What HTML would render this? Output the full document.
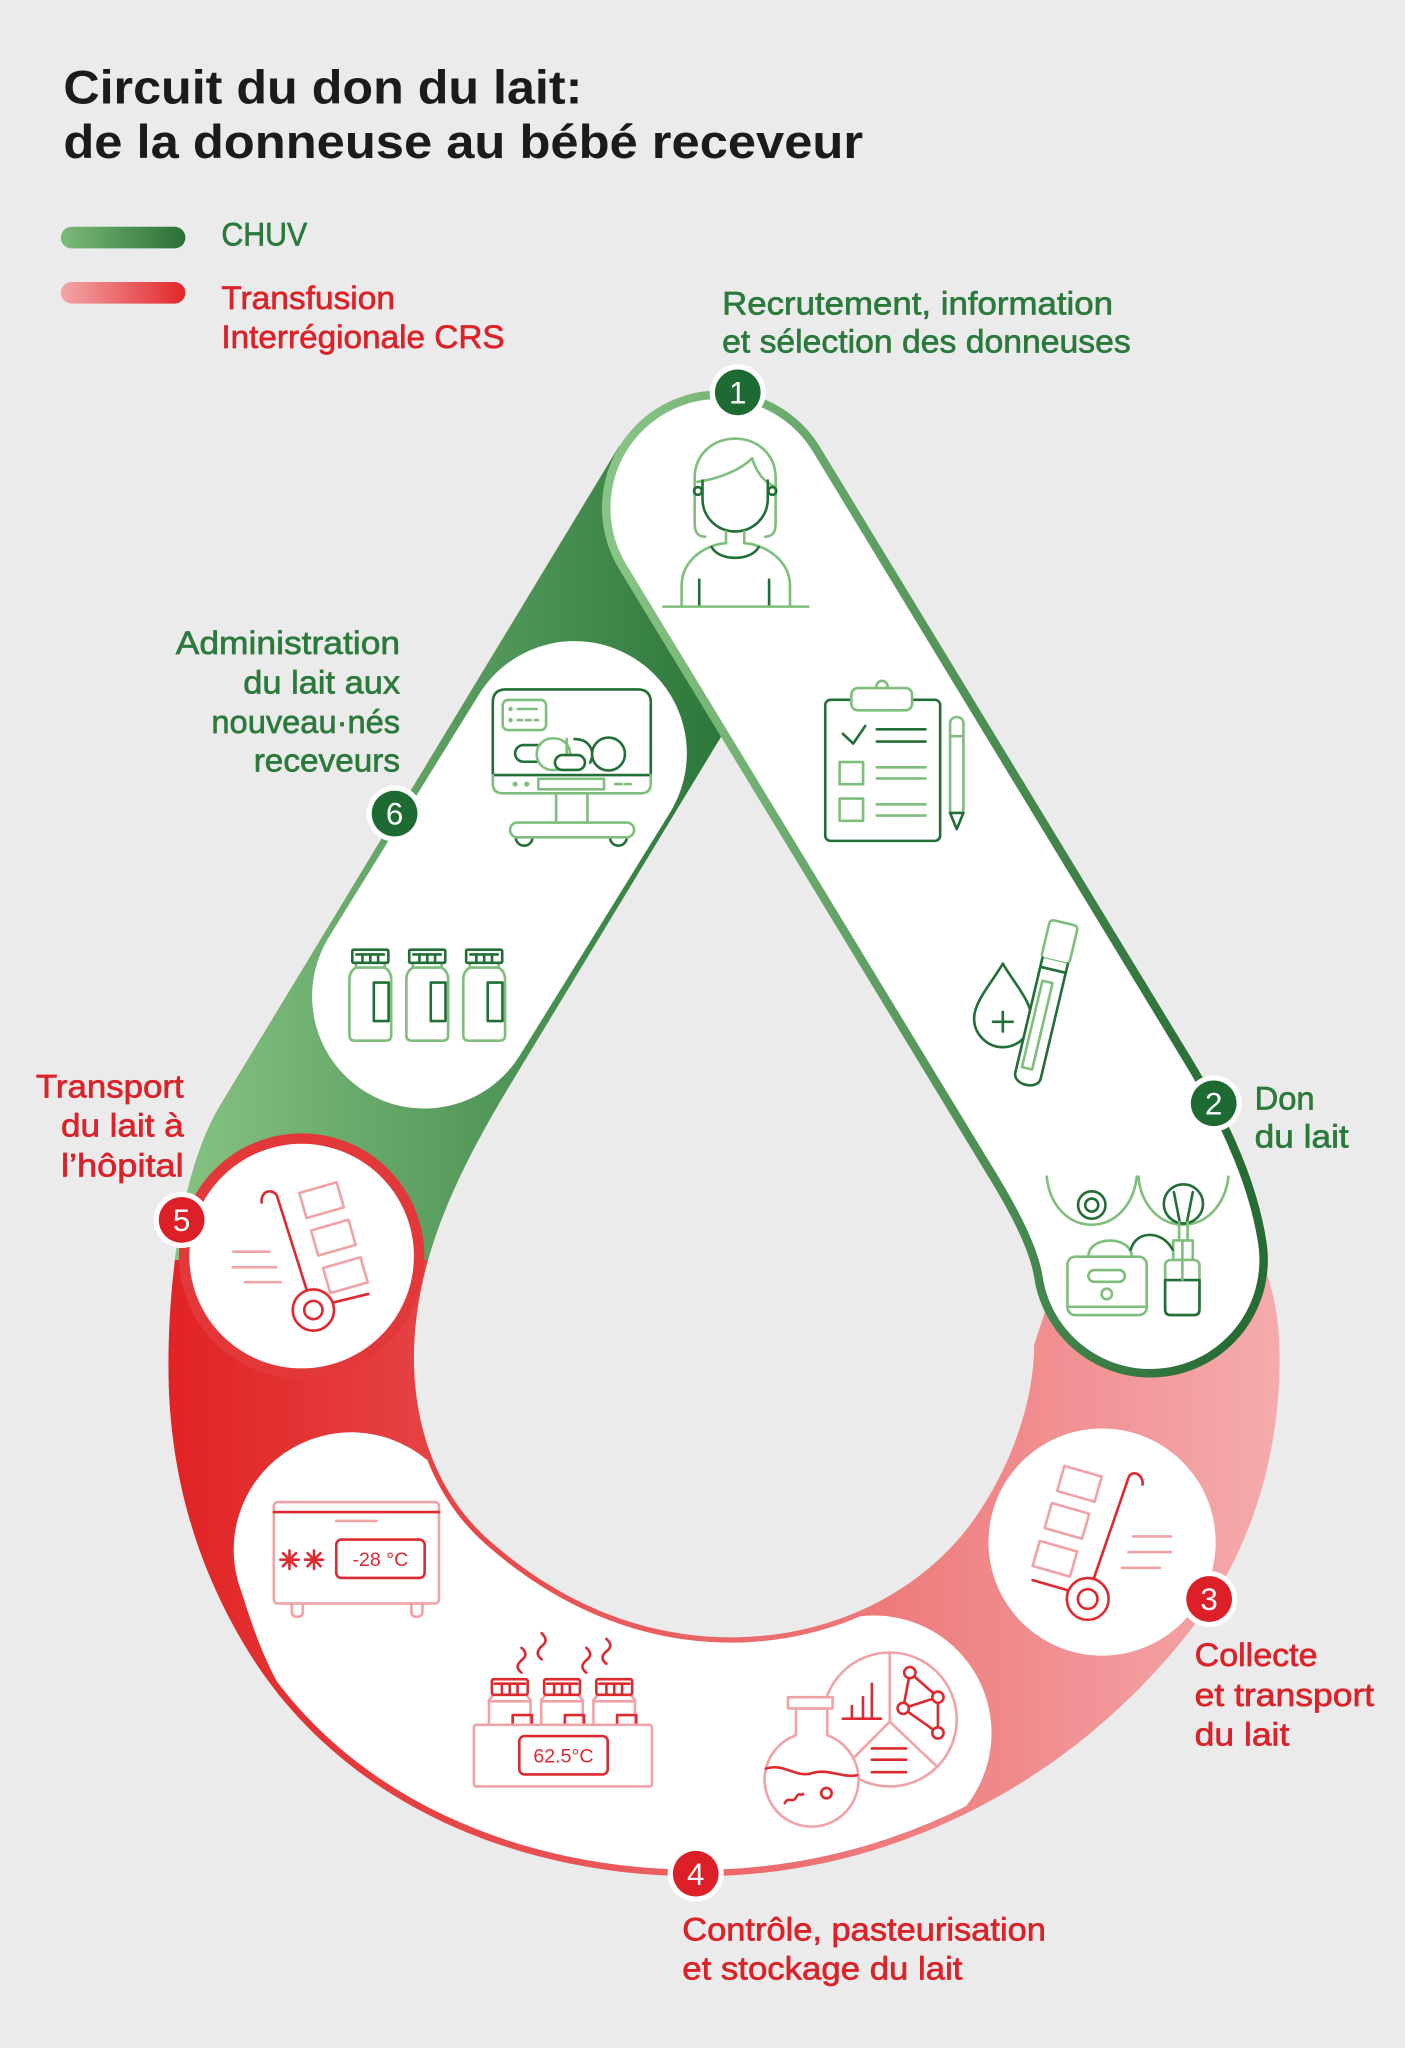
<!DOCTYPE html>
<html><head><meta charset="utf-8"><title>Circuit du don du lait</title>
<style>html,body{margin:0;padding:0;background:#ebebeb;overflow:hidden}svg{display:block}</style></head>
<body>
<svg xmlns="http://www.w3.org/2000/svg" width="1405" height="2048" viewBox="0 0 1076 1568.5" preserveAspectRatio="none" font-family="'Liberation Sans', sans-serif">
<defs>
<linearGradient id="gR" gradientUnits="userSpaceOnUse" x1="130" y1="0" x2="980" y2="0"><stop offset="0" stop-color="#e12324"/><stop offset="1" stop-color="#f5abad"/></linearGradient>
<linearGradient id="gG" gradientUnits="userSpaceOnUse" x1="130" y1="0" x2="560" y2="0"><stop offset="0" stop-color="#87c484"/><stop offset="1" stop-color="#2a763a"/></linearGradient>
<linearGradient id="gL" gradientUnits="userSpaceOnUse" x1="470" y1="0" x2="940" y2="0"><stop offset="0" stop-color="#88c485"/><stop offset="1" stop-color="#276b35"/></linearGradient>
<linearGradient id="lg1" x1="0" y1="0" x2="1" y2="0"><stop offset="0" stop-color="#7cbb79"/><stop offset="1" stop-color="#2a6f38"/></linearGradient>
<linearGradient id="lg2" x1="0" y1="0" x2="1" y2="0"><stop offset="0" stop-color="#f4a6a8"/><stop offset="1" stop-color="#e2262a"/></linearGradient>
<clipPath id="cTop"><rect x="0" y="0" width="1076" height="965"/></clipPath>
<clipPath id="cBot"><rect x="0" y="1060" width="1076" height="600"/></clipPath>
<clipPath id="cOut"><path d="M474 342 L169 846 C138 897 129 985 129 1045 C129 1125 149 1198 191 1266 C263 1382 398 1437 535 1437 C683 1437 821 1365 912 1248 C958 1189 980 1115 980 1040 C980 1010 975 990 970 975 L881 965 L551 389 Z"/></clipPath>
</defs>

<rect x="0" y="0" width="1076" height="1568.5" fill="#ebebeb"/>

<!-- Title -->
<text x="48.5" y="79.1" font-size="36" font-weight="bold" fill="#1b1b1b" textLength="397.5" lengthAdjust="spacingAndGlyphs">Circuit du don du lait:</text>
<text x="48.5" y="121" font-size="36" font-weight="bold" fill="#1b1b1b" textLength="612.5" lengthAdjust="spacingAndGlyphs">de la donneuse au bébé receveur</text>

<!-- Legend -->
<rect x="46.6" y="173.7" width="95.4" height="16.5" rx="8.25" fill="url(#lg1)"/>
<rect x="46.6" y="216" width="95.4" height="16.5" rx="8.25" fill="url(#lg2)"/>
<g font-size="25" stroke-width="0.5">
<text x="169.5" y="188" fill="#2b7a3c" stroke="#2b7a3c" textLength="65.8" lengthAdjust="spacingAndGlyphs">CHUV</text>
<text x="169.5" y="236.5" fill="#dc2229" stroke="#dc2229" textLength="133" lengthAdjust="spacingAndGlyphs">Transfusion</text>
<text x="169.5" y="266.6" fill="#dc2229" stroke="#dc2229" textLength="217" lengthAdjust="spacingAndGlyphs">Interrégionale CRS</text>
</g>

<!-- Band: red full, green upper -->
<path d="M474 342 L169 846 C138 897 129 985 129 1045 C129 1125 149 1198 191 1266 C263 1382 398 1437 535 1437 C683 1437 821 1365 912 1248 C958 1189 980 1115 980 1040 C980 1010 975 990 970 975 L881 965 L551 389 Z" fill="url(#gR)"/>
<g clip-path="url(#cTop)">
<path d="M474 342 L169 846 C138 897 129 985 129 1045 C129 1125 149 1198 191 1266 C263 1382 398 1437 535 1437 C683 1437 821 1365 912 1248 C958 1189 980 1115 980 1040 C980 1010 975 990 970 975 L881 965 L551 389 Z" fill="url(#gG)"/>
</g>

<!-- Pill 6 -->
<path d="M440 577 L325 763" stroke="#fff" stroke-width="172" stroke-linecap="round" fill="none"/>

<!-- Pill 5 -->
<circle cx="231" cy="962" r="94" fill="#e3383a"/>
<circle cx="231" cy="962" r="86" fill="#fff"/>

<!-- Pill 4 -->
<g clip-path="url(#cOut)">
<path d="M326.9 1118.1 A90 90 0 0 0 184.4 1217.8 C192 1240 200 1270 222 1305 L150 1360 L400 1480 L740 1440 L713 1406 A90 90 0 0 0 625.7 1248.5 L600 1200 L330 1100 Z" fill="#fff"/>
</g>
<g clip-path="url(#cOut)"><g clip-path="url(#cBot)">
<path d="M474 342 L169 846 C138 897 129 985 129 1045 C129 1125 149 1198 191 1266 C263 1382 398 1437 535 1437 C683 1437 821 1365 912 1248 C958 1189 980 1115 980 1040 C980 1010 975 990 970 975 L881 965 L551 389 Z" fill="none" stroke="url(#gR)" stroke-width="10"/>
</g></g>

<!-- Hole -->
<g clip-path="url(#cBot)">
<path d="M573.7 528.8 L393 827 C353 893 317 963 317 1040 C317 1093 335 1145 375 1180 C427 1226 490 1254 560 1254 C632 1254 703 1223 745 1165 C775 1123 792 1072 792 1030 L815 960 L870 900 L640 530 Z" fill="none" stroke="url(#gR)" stroke-width="8"/>
</g>
<path d="M573.7 528.8 L393 827 C353 893 317 963 317 1040 C317 1093 335 1145 375 1180 C427 1226 490 1254 560 1254 C632 1254 703 1223 745 1165 C775 1123 792 1072 792 1030 L815 960 L870 900 L640 530 Z" fill="#ebebeb"/>

<!-- Pill 3 -->
<circle cx="844" cy="1181" r="87" fill="#fff"/>

<!-- Lane -->
<path d="M551 389 L836 858 C855.7 890.5 875.6 929.4 881 965" fill="none" stroke="url(#gL)" stroke-width="180" stroke-linecap="round"/>
<path d="M551 389 L836 858 C855.7 890.5 875.6 929.4 881 965" fill="none" stroke="#fff" stroke-width="167" stroke-linecap="round"/>

<!-- ===== Green icons ===== -->
<g fill="none" stroke-width="2" stroke-linecap="round" stroke-linejoin="round">
<!-- Person -->
<path stroke="#7fbe7c" d="M540 411 C533 411 532 406 532 400 L532 366 C532 348 546 336 563 336 C580 336 594 348 594 366 L594 400 C594 406 593 411 586 411"/>
<path stroke="#7fbe7c" d="M534 369 C550 367 567 360 576 351 C579 361 585 369 592 372"/>
<path stroke="#226e37" d="M538 368 L538 382 C538 396 549 407 563 407 C577 407 588 396 588 382 L588 368"/>
<circle stroke="#226e37" cx="534.5" cy="376" r="3"/><circle stroke="#226e37" cx="591.5" cy="376" r="3"/>
<path stroke="#7fbe7c" d="M556 407 L556 416 M570 407 L570 416"/>
<path stroke="#7fbe7c" d="M522 464 L522 449 C522 429 540 417 556 416 M570 416 C586 417 605 429 605 449 L605 464"/>
<path stroke="#226e37" d="M545 419 C551 430 575 430 581 419"/>
<path stroke="#226e37" d="M535.5 444 L535.5 464 M589 444 L589 464"/>
<path stroke="#7fbe7c" d="M508 464.6 L619 464.6"/>

<!-- Clipboard -->
<rect x="632" y="536" width="88" height="108" rx="4" stroke="#226e37"/>
<rect x="652" y="527" width="46.5" height="17" rx="5" stroke="#7fbe7c" fill="#fff"/>
<path stroke="#7fbe7c" d="M671 527 C671 519.5 680 519.5 680 527"/>
<path stroke="#226e37" d="M645.5 562 L653.4 569.5 L662.6 556"/>
<path stroke="#226e37" d="M671.5 558.6 L708.8 558.6 M671.5 567.9 L708.8 567.9"/>
<rect x="643" y="583.6" width="18" height="17" stroke="#7fbe7c"/>
<rect x="643" y="611.6" width="18" height="17" stroke="#7fbe7c"/>
<path stroke="#7fbe7c" d="M671.5 587.7 L708.8 587.7 M671.5 596.2 L708.8 596.2 M671.5 616 L708.8 616 M671.5 624.6 L708.8 624.6"/>
<path stroke="#7fbe7c" d="M727.6 622.6 L727.6 554 C727.6 547.5 737.8 547.5 737.8 554 L737.8 622.6 M727.6 563.8 L737.8 563.8"/>
<path stroke="#226e37" d="M727.6 622.6 L737.8 622.6 L732.7 635 Z"/>

<!-- Drop + tube -->
<path stroke="#226e37" fill="#fff" d="M768 738 C760 752 746 767 746 780 C746 792 756 802 768 802 C780 802 790 792 790 780 C790 767 776 752 768 738 Z"/>
<path stroke="#226e37" d="M760.5 782.6 L775.5 782.6 M768 775 L768 790"/>
<g transform="rotate(13.3 800 770)">
<rect x="789" y="705" width="22" height="30" rx="3" stroke="#7fbe7c" fill="#fff"/>
<path stroke="#226e37" fill="#fff" d="M790 735 L790 825 C790 835 810 835 810 825 L810 735"/>
<path stroke="#226e37" d="M790 742 L810 742"/>
<rect x="794" y="752" width="8" height="68" stroke="#7fbe7c"/>
</g>

<!-- Pump -->
<path stroke="#7fbe7c" d="M801.6 901.2 C804 924 819 938 836 938 C853 938 868 924 870.6 901.2"/>
<path stroke="#7fbe7c" d="M871.8 901.2 C874 924 889 938 906 938 C923 938 938 924 940.8 901.2"/>
<circle cx="836.1" cy="922.9" r="10.5" stroke="#226e37"/>
<circle cx="836.1" cy="922.9" r="5" stroke="#226e37"/>
<circle cx="906.3" cy="922" r="15" stroke="#226e37" fill="#fff"/>
<path stroke="#226e37" d="M899 913 L903.5 936 M913.5 913 L909 936"/>
<path stroke="#7fbe7c" d="M903 936 L903 951 M909.5 936 L909.5 951"/>
<rect x="898.5" y="950" width="15" height="15" stroke="#7fbe7c" fill="#fff"/>
<rect x="892.3" y="965" width="26.3" height="42.2" rx="4" stroke="#7fbe7c" fill="#fff"/>
<path stroke="#226e37" d="M892.3 980.4 L892.3 1003 Q892.3 1007.2 896.5 1007.2 L914.4 1007.2 Q918.6 1007.2 918.6 1003 L918.6 980.4 Z"/>
<path stroke="#7fbe7c" d="M905.5 951 L905.5 980"/>
<path stroke="#7fbe7c" fill="#fff" d="M833.5 962.5 C833.5 946 866.7 946 866.7 962.5"/>
<rect x="817.5" y="962.5" width="60.7" height="44.7" rx="6" stroke="#7fbe7c" fill="#fff"/>
<rect x="833.5" y="972.7" width="28" height="9" rx="4.5" stroke="#7fbe7c"/>
<circle cx="847.6" cy="991" r="4" stroke="#7fbe7c"/>
<path stroke="#7fbe7c" d="M817.5 1000.8 L878.2 1000.8"/>
<path stroke="#226e37" d="M866 957 C870 942 890 942 898 957"/>

<!-- Incubator -->
<path stroke="#226e37" d="M377.4 593.6 L377.4 538 Q377.4 528 387.4 528 L488.4 528 Q498.4 528 498.4 538 L498.4 593.6 Z"/>
<path stroke="#7fbe7c" d="M377.4 593.6 L377.4 600 Q377.4 607.6 385 607.6 L490.8 607.6 Q498.4 607.6 498.4 600 L498.4 593.6"/>
<rect x="385" y="536.1" width="33.2" height="23" rx="4" stroke="#7fbe7c"/>
<circle cx="391" cy="543" r="1.7" fill="#7fbe7c" stroke="none"/><circle cx="391" cy="551.5" r="1.7" fill="#7fbe7c" stroke="none"/>
<path stroke="#7fbe7c" d="M396.5 543 L411 543 M396.5 551.5 L400 551.5 M403 551.5 L406.5 551.5 M409.5 551.5 L412 551.5"/>
<rect x="394.5" y="570.6" width="28" height="12.8" rx="6.4" stroke="#226e37"/>
<rect x="411" y="565.5" width="25.6" height="24.2" rx="12" stroke="#7fbe7c" fill="#fff"/>
<path stroke="#7fbe7c" d="M434 566 L434 589"/>
<rect x="425" y="578.3" width="23" height="11.4" rx="5.7" stroke="#226e37" fill="#fff"/>
<path stroke="#226e37" d="M440 566 C452 566 456 576 452 584"/>
<circle cx="466" cy="577.5" r="12.6" stroke="#226e37" fill="#fff"/>
<circle cx="394.5" cy="600.5" r="2" fill="#7fbe7c" stroke="none"/><circle cx="403.4" cy="600.5" r="2" fill="#7fbe7c" stroke="none"/>
<rect x="412.3" y="596.5" width="50.3" height="8" stroke="#7fbe7c"/>
<path stroke="#7fbe7c" d="M471 600.5 L476 600.5 M478.5 600.5 L483 600.5"/>
<path stroke="#7fbe7c" d="M425.9 607.6 L425.9 630 M449.9 607.6 L449.9 630"/>
<path stroke="#226e37" d="M395 641.3 A6.4 6.4 0 0 0 407.8 641.3 M467.2 641.3 A6.4 6.4 0 0 0 480 641.3"/>
<rect x="390.6" y="630" width="95" height="11.3" rx="5.6" stroke="#7fbe7c" fill="#fff"/>

<!-- Bottles (pill 6) -->
<g id="btl">
<path stroke="#7fbe7c" fill="#fff" d="M272.6 737.4 L272.6 741 Q267.6 744 267.6 750 L267.6 793 Q267.6 797 271.6 797 L295.6 797 Q299.6 797 299.6 793 L299.6 750 Q299.6 744 294.6 741 L294.6 737.4"/>
<path stroke="#7fbe7c" d="M272.6 741 L294.6 741"/>
<rect x="269.8" y="727.3" width="27.6" height="10.1" rx="1" stroke="#226e37" fill="#fff"/>
<path stroke="#226e37" d="M273 731 L294 731 M277.6 731 L277.6 737.4 M283.6 731 L283.6 737.4 M289.6 731 L289.6 737.4"/>
<rect x="286.3" y="752.5" width="11.3" height="29.5" stroke="#226e37"/>
</g>
<use href="#btl" transform="translate(43.6 0)"/>
<use href="#btl" transform="translate(87.2 0)"/>
</g>

<!-- ===== Red icons ===== -->
<g fill="none" stroke-width="2" stroke-linecap="round" stroke-linejoin="round">
<!-- Truck pill 5 -->
<g stroke="#f0a3a6">
<rect x="-14.9" y="-10" width="29.8" height="20" transform="translate(246.3 919.2) rotate(-16)"/>
<rect x="-14.9" y="-10" width="29.8" height="20" transform="translate(255.3 947.9) rotate(-16)"/>
<rect x="-14.9" y="-10" width="29.8" height="20" transform="translate(264.5 976.6) rotate(-16)"/>
<path d="M178.7 958.6 L206.3 958.6 M178.2 970.6 L211.4 970.6 M187.6 982 L214.9 982"/>
</g>
<path stroke="#dd2a30" d="M200.4 921 C199.5 913 207 909.5 211.9 915.2 L234.9 988"/>
<path stroke="#dd2a30" d="M255 997.6 L282.1 991"/>
<circle cx="240" cy="1003.3" r="15.8" stroke="#dd2a30" fill="#fff"/>
<circle cx="240" cy="1003.3" r="7" stroke="#dd2a30"/>

<!-- Truck pill 3 -->
<g stroke="#f0a3a6">
<rect x="-14.9" y="-10" width="29.8" height="20" transform="translate(826.7 1136.4) rotate(16)"/>
<rect x="-14.9" y="-10" width="29.8" height="20" transform="translate(817.1 1164.8) rotate(16)"/>
<rect x="-14.9" y="-10" width="29.8" height="20" transform="translate(807.9 1193.8) rotate(16)"/>
<path d="M867.8 1176.7 L896.8 1176.7 M864.3 1188.7 L896.8 1188.7 M859.2 1200.7 L888.3 1200.7"/>
</g>
<path stroke="#dd2a30" d="M875 1137 C876 1129 867 1125.5 864.5 1131 L838 1208"/>
<path stroke="#dd2a30" d="M790.8 1210.2 L818 1218"/>
<circle cx="833" cy="1224.6" r="16" stroke="#dd2a30" fill="#fff"/>
<circle cx="833" cy="1224.6" r="7.5" stroke="#dd2a30"/>

<!-- Freezer -->
<rect x="209.7" y="1150.4" width="126.5" height="77.6" rx="3" stroke="#f0a3a6"/>
<path stroke="#dd2a30" d="M209.7 1158 L336.2 1158"/>
<path stroke="#f0a3a6" d="M257.5 1164.8 L288.3 1164.8"/>
<path stroke="#f0a3a6" d="M223.4 1228 L223.4 1234 Q223.4 1238.3 227.6 1238.3 Q231.9 1238.3 231.9 1234 L231.9 1228 M315 1228 L315 1234 Q315 1238.3 319.2 1238.3 Q323.5 1238.3 323.5 1234 L323.5 1228"/>
<path stroke="#dd2a30" d="M214.7 1194.5 L228.7 1194.5 M221.7 1187.5 L221.7 1201.5 M216.7 1189.5 L226.7 1199.5 M216.7 1199.5 L226.7 1189.5"/>
<path stroke="#dd2a30" d="M233.5 1194.5 L247.5 1194.5 M240.5 1187.5 L240.5 1201.5 M235.5 1189.5 L245.5 1199.5 M235.5 1199.5 L245.5 1189.5"/>
<rect x="257.5" y="1179.1" width="67.7" height="29.4" rx="4" stroke="#dd2a30"/>

<!-- Pasteurizer -->
<path stroke="#dd2a30" d="M399.4 1281 c-4 -3 -4 -6 0 -9.5 c4 -3 4 -6 0 -9.5"/>
<path stroke="#dd2a30" d="M414.8 1270.8 c-4 -3 -4 -6 0 -10 c4 -3 4 -6 0 -10"/>
<path stroke="#dd2a30" d="M449 1281 c-4 -3 -4 -6 0 -9.5 c4 -3 4 -6 0 -9.5"/>
<path stroke="#dd2a30" d="M464.4 1274.2 c-4 -3 -4 -6 0 -9.5 c4 -3 4 -6 0 -9.5"/>
<g id="pb">
<path stroke="#f0a3a6" fill="#fff" d="M378 1298 L374.5 1302 L374.5 1321 L406.3 1321 L406.3 1302 L402.8 1298"/>
<path stroke="#f0a3a6" d="M374.5 1303 L406.3 1303"/>
<rect x="376.7" y="1286" width="27.4" height="12" rx="1.5" stroke="#dd2a30" fill="#fff"/>
<path stroke="#dd2a30" d="M379 1289.5 L402 1289.5 M384.4 1289.5 L384.4 1298 M390.4 1289.5 L390.4 1298 M396.4 1289.5 L396.4 1298"/>
<rect x="392.6" y="1313.5" width="14.7" height="7.5" stroke="#dd2a30"/>
</g>
<use href="#pb" transform="translate(40 0)"/>
<use href="#pb" transform="translate(80 0)"/>
<rect x="362.9" y="1321" width="136.4" height="47.2" rx="2" stroke="#f0a3a6" fill="#fff"/>
<rect x="397.7" y="1329.6" width="67.7" height="29.4" rx="4" stroke="#dd2a30"/>

<!-- Pie + flask -->
<circle cx="681.4" cy="1316.9" r="51.3" stroke="#f0a3a6" fill="#fff"/>
<path stroke="#f0a3a6" d="M681.4 1318.6 L681.4 1265.6 M681.4 1318.6 L654.1 1346 M681.4 1318.6 L717.3 1352.8"/>
<path stroke="#dd2a30" d="M645.5 1316.3 L674.6 1316.3 M652.4 1316.3 L652.4 1306.7 M660.9 1316.3 L660.9 1299.8 M667.7 1316.3 L667.7 1289.6"/>
<path stroke="#dd2a30" d="M696.8 1281 L718.3 1299.8 L691.7 1308.4 Z M691.7 1308.4 L718.3 1327.2 L718.3 1299.8"/>
<circle cx="696.8" cy="1281" r="4.3" stroke="#dd2a30" fill="#fff"/>
<circle cx="718.3" cy="1299.8" r="4.3" stroke="#dd2a30" fill="#fff"/>
<circle cx="691.7" cy="1308.4" r="4.3" stroke="#dd2a30" fill="#fff"/>
<circle cx="718.3" cy="1327.2" r="4.3" stroke="#dd2a30" fill="#fff"/>
<path stroke="#dd2a30" d="M667.7 1339.1 L694 1339.1 M667.7 1347.7 L694 1347.7 M667.7 1357.3 L694 1357.3"/>
<path stroke="#f0a3a6" fill="#fff" d="M609.6 1308.4 L609.6 1329 A36 36 0 1 0 633.5 1329 L633.5 1308.4 Z"/>
<rect x="603.5" y="1299.8" width="34.1" height="8.6" stroke="#f0a3a6" fill="#fff"/>
<path stroke="#dd2a30" d="M586.7 1354.5 C600 1350 610 1362 622 1358 C634 1354 645 1362 656.4 1359.6"/>
<path stroke="#dd2a30" d="M601 1381 C604 1375 607 1382 610 1376 C612 1372 614 1376 615 1374"/>
<circle cx="632.9" cy="1373.3" r="4" stroke="#dd2a30"/>
</g>
<g font-size="15" fill="#dd2a30" text-anchor="middle">
<text x="291.3" y="1199.5">-28 °C</text>
<text x="431.5" y="1350">62.5°C</text>
</g>

<!-- Number markers -->
<g font-size="24" text-anchor="middle" fill="#fff">
<circle cx="565" cy="300.5" r="21.5" fill="#fff"/><circle cx="565" cy="300.5" r="17.5" fill="#1d6a33"/><text x="565" y="309">1</text>
<circle cx="929.5" cy="845" r="21.5" fill="#fff"/><circle cx="929.5" cy="845" r="17.5" fill="#1d6a33"/><text x="929.5" y="853.5">2</text>
<circle cx="926" cy="1224.6" r="21.5" fill="#fff"/><circle cx="926" cy="1224.6" r="17.5" fill="#dd1f27"/><text x="926" y="1233.1">3</text>
<circle cx="532.8" cy="1435" r="21.5" fill="#fff"/><circle cx="532.8" cy="1435" r="17.5" fill="#dd1f27"/><text x="532.8" y="1443.5">4</text>
<circle cx="139.1" cy="934.3" r="21.5" fill="#fff"/><circle cx="139.1" cy="934.3" r="17.5" fill="#dd1f27"/><text x="139.1" y="942.8">5</text>
<circle cx="302.2" cy="623.1" r="21.5" fill="#fff"/><circle cx="302.2" cy="623.1" r="17.5" fill="#1d6a33"/><text x="302.2" y="631.6">6</text>
</g>

<!-- Labels -->
<g font-size="25" stroke-width="0.5">
<g fill="#2b7a3c" stroke="#2b7a3c">
<text x="553" y="241" textLength="299.4" lengthAdjust="spacingAndGlyphs">Recrutement, information</text>
<text x="553" y="270.1" textLength="313" lengthAdjust="spacingAndGlyphs">et sélection des donneuses</text>
<text x="306.4" y="500.9" text-anchor="end" textLength="171.8" lengthAdjust="spacingAndGlyphs">Administration</text>
<text x="306.4" y="531" text-anchor="end" textLength="120.1" lengthAdjust="spacingAndGlyphs">du lait aux</text>
<text x="306.4" y="561.2" text-anchor="end" textLength="144.5" lengthAdjust="spacingAndGlyphs">nouveau·nés</text>
<text x="306.4" y="590.7" text-anchor="end" textLength="112.1" lengthAdjust="spacingAndGlyphs">receveurs</text>
<text x="960.8" y="849.6" textLength="46" lengthAdjust="spacingAndGlyphs">Don</text>
<text x="960.8" y="878.9" textLength="72.1" lengthAdjust="spacingAndGlyphs">du lait</text>
</g>
<g fill="#dc2229" stroke="#dc2229">
<text x="140.7" y="840.5" text-anchor="end" textLength="113.2" lengthAdjust="spacingAndGlyphs">Transport</text>
<text x="140.7" y="870.5" text-anchor="end" textLength="94" lengthAdjust="spacingAndGlyphs">du lait à</text>
<text x="140.7" y="901" text-anchor="end" textLength="94" lengthAdjust="spacingAndGlyphs">l’hôpital</text>
<text x="914.9" y="1275.9" textLength="94.1" lengthAdjust="spacingAndGlyphs">Collecte</text>
<text x="914.9" y="1306.7" textLength="137.5" lengthAdjust="spacingAndGlyphs">et transport</text>
<text x="914.9" y="1336.8" textLength="72.5" lengthAdjust="spacingAndGlyphs">du lait</text>
<text x="522.5" y="1486" textLength="278.5" lengthAdjust="spacingAndGlyphs">Contrôle, pasteurisation</text>
<text x="522.5" y="1515.9" textLength="214.6" lengthAdjust="spacingAndGlyphs">et stockage du lait</text>
</g>
</g>
</svg>
</body></html>
